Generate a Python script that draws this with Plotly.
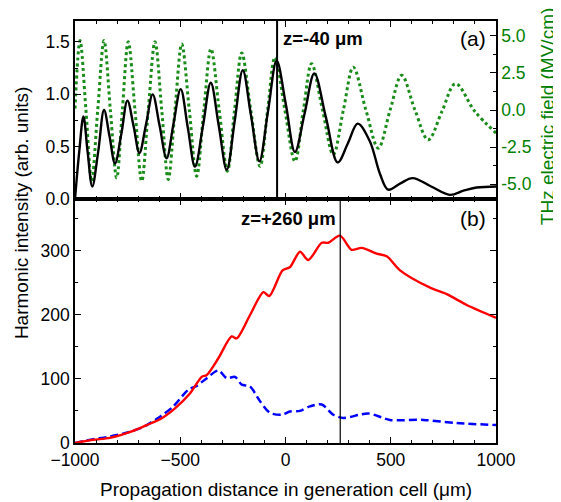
import plotly.graph_objects as go

# ---------------- panel (a): harmonic intensity (black) ----------------
z_harm_a = [-1000, -980, -960, -940, -918, -890, -862, -836, -810, -780, -751, -722,
            -694, -662, -631, -598, -565, -532, -498, -464, -430, -392, -355, -317,
            -279, -241, -203, -164, -124, -83, -42, 2, 45, 91, 137, 192, 248, 296,
            343, 401, 449, 488, 546, 604, 692, 781, 845, 908, 1000]
harm_a = [0.0, 0.45, 0.79, 0.45, 0.12, 0.45, 0.85, 0.6, 0.34, 0.62, 0.94, 0.7,
          0.44, 0.72, 1.0, 0.7, 0.39, 0.72, 1.05, 0.68, 0.31, 0.7, 1.11, 0.7,
          0.28, 0.75, 1.23, 0.8, 0.36, 0.84, 1.32, 0.9, 0.45, 0.82, 1.20, 0.78, 0.35, 0.53,
          0.72, 0.55, 0.24, 0.09, 0.15, 0.20, 0.12, 0.04, 0.08, 0.11, 0.12]

# ---------------- panel (a): THz electric field (green dotted) ----------------
z_thz = [-1000, -976, -948, -921, -892, -862, -832, -802, -775, -747, -715, -683,
         -652, -620, -588, -557, -525, -493, -457, -422, -388, -354, -315, -276,
         -242, -208, -165, -121, -85, -50, -3, 45, 85, 124, 176, 227, 275, 322,
         382, 441, 497, 552, 615, 678, 743, 808, 900, 1000]
thz_field = [0.1, 4.68, 0.0, -4.79, 0.0, 4.68, 0.0, -4.57, 0.0, 4.61, 0.0, -4.79,
             0.0, 4.61, 0.0, -4.68, 0.0, 4.45, 0.0, -4.46, 0.0, 4.12, 0.0, -4.12,
             0.0, 3.85, 0.0, -3.79, 0.0, 3.56, 0.0, -3.46, 0.0, 3.12, 0.0, -3.01, 0.0, 2.89,
             0.0, -2.57, 0.0, 2.34, 0.0, -2.01, -0.1, 1.78, -0.1, -1.55]

# ---------------- panel (b): harmonic intensity ----------------
z_red = [-1000, -913, -834, -731, -659, -596, -525, -454, -398, -374, -319, -256,
         -232, -169, -105, -77, -14, 21, 69, 108, 172, 203, 259, 314, 362, 433,
         481, 544, 687, 766, 861, 1000]
harm_red = [0, 5, 8, 18, 28, 37, 54, 77, 103, 106, 132, 166,
            163, 199, 235, 229, 269, 274, 298, 285, 312, 312, 323, 301, 304, 295,
            291, 269, 242, 232, 215, 195]

z_blue = [-1000, -913, -850, -755, -676, -596, -533, -462, -422, -374, -319, -279,
          -240, -208, -169, -121, -74, -18, 21, 69, 116, 172, 227, 275, 393, 496,
          655, 813, 1000]
harm_blue = [0, 6, 9, 16, 25, 41, 57, 83, 89, 101, 113, 101,
             103, 91, 88, 65, 47, 44, 49, 50, 57, 60, 44, 39, 46, 36,
             36, 31, 28]

# markers and labels
z_line_a = -40
z_line_b = 260
x_ticks = [-1000, -500, 0, 500, 1000]
ya_ticks = [0, 0.5, 1.0, 1.5]
ya_labels = ["0.0", "0.5", "1.0", "1.5"]
thz_ticks = [-5, -2.5, 0, 2.5, 5]
thz_labels = ["-5.0", "-2.5", "0.0", "2.5", "5.0"]
yb_ticks = [0, 100, 200, 300]

FONT = "Liberation Sans, Arial, sans-serif"
GREEN = "#008000"
SPLIT = 0.578
TICKSIZE = 17.5

fig = go.Figure()
fig.add_trace(go.Scatter(x=z_thz, y=thz_field, xaxis="x2", yaxis="y2", mode="lines",
                         line=dict(color="#198c19", width=3, dash="dot", shape="spline", smoothing=1.0)))
fig.add_trace(go.Scatter(x=z_harm_a, y=harm_a, xaxis="x2", yaxis="y3", mode="lines",
                         line=dict(color="black", width=2.4, shape="spline", smoothing=1.0)))
fig.add_trace(go.Scatter(x=z_blue, y=harm_blue, xaxis="x", yaxis="y", mode="lines",
                         line=dict(color="#0000ff", width=2.5, dash="8px,4px", shape="spline", smoothing=0.8)))
fig.add_trace(go.Scatter(x=z_red, y=harm_red, xaxis="x", yaxis="y", mode="lines",
                         line=dict(color="#ff0000", width=2.4, shape="spline", smoothing=0.8)))

axis_common = dict(showline=True, linecolor="black", linewidth=1.5, showgrid=False,
                   zeroline=False, ticks="inside", ticklen=6, tickwidth=1.2, tickcolor="black",
                   tickfont=dict(size=TICKSIZE, color="black", family=FONT))
minor_common = dict(ticks="inside", ticklen=3.5, tickcolor="black")

# the page body adds an 8px offset, so the figure is drawn slightly smaller
fig.update_layout(
    width=553, height=494,
    margin=dict(l=67, r=65, t=11, b=59),
    paper_bgcolor="white", plot_bgcolor="white",
    showlegend=False,
    font=dict(family=FONT, color="black"),
    xaxis=dict(domain=[0, 1], range=[-1000, 1000], anchor="y", tickvals=x_ticks,
               mirror="ticks", minor=dict(dtick=100, tick0=-1000, **minor_common), **axis_common),
    xaxis2=dict(domain=[0, 1], range=[-1000, 1000], anchor="y2", matches="x", tickvals=x_ticks,
                showticklabels=False, mirror="ticks",
                minor=dict(dtick=100, tick0=-1000, **minor_common), **axis_common),
    yaxis=dict(domain=[0, SPLIT], range=[0, 380], anchor="x", tickvals=yb_ticks, mirror="ticks",
               minor=dict(dtick=50, **minor_common), **axis_common),
    yaxis2=dict(domain=[SPLIT, 1], range=[-6, 6], anchor="x2", side="right",
                tickvals=thz_ticks, ticktext=thz_labels, mirror=False,
                minor=dict(dtick=1.25, tick0=0, **minor_common),
                **{**axis_common, "tickfont": dict(size=TICKSIZE, color=GREEN, family=FONT)}),
    yaxis3=dict(overlaying="y2", range=[0, 1.7], anchor="x2", side="left",
                tickvals=ya_ticks, ticktext=ya_labels, mirror=False,
                minor=dict(dtick=0.25, **minor_common), **axis_common),
)

fig.add_shape(type="line", xref="x2", yref="y2 domain", x0=z_line_a, x1=z_line_a, y0=0, y1=1,
              line=dict(color="black", width=2))
fig.add_shape(type="line", xref="x", yref="y domain", x0=z_line_b, x1=z_line_b, y0=0, y1=1,
              line=dict(color="black", width=1.2))

fig.add_annotation(x=z_line_a, xref="x2", y=0.9575, yref="paper", text="<b>z=-40 μm</b>",
                   showarrow=False, xanchor="left", yanchor="middle", xshift=4,
                   font=dict(size=18.5, color="black", family=FONT))
fig.add_annotation(x=0.945, xref="paper", y=0.9575, yref="paper", text="(a)",
                   showarrow=False, xanchor="center", yanchor="middle",
                   font=dict(size=21, color="black", family=FONT))
fig.add_annotation(x=z_line_b, xref="x", y=0.533, yref="paper", text="<b>z=+260 μm</b>",
                   showarrow=False, xanchor="right", yanchor="middle", xshift=-2,
                   font=dict(size=18.5, color="black", family=FONT))
fig.add_annotation(x=0.945, xref="paper", y=0.531, yref="paper", text="(b)",
                   showarrow=False, xanchor="center", yanchor="middle",
                   font=dict(size=21, color="black", family=FONT))
fig.add_annotation(x=-0.128, xref="paper", y=0.545, yref="paper",
                   text="Harmonic intensity (arb. units)", textangle=-90, showarrow=False,
                   xanchor="center", yanchor="middle", font=dict(size=19, color="black", family=FONT))
fig.add_annotation(x=1.123, xref="paper", y=0.774, yref="paper",
                   text="THz electric field (MV/cm)", textangle=-90, showarrow=False,
                   xanchor="center", yanchor="middle", font=dict(size=19, color=GREEN, family=FONT))
fig.add_annotation(x=0.5, xref="paper", y=-0.111, yref="paper",
                   text="Propagation distance in generation cell (μm)", showarrow=False,
                   xanchor="center", yanchor="middle", font=dict(size=19, color="black", family=FONT))

fig.write_html("out.html")
